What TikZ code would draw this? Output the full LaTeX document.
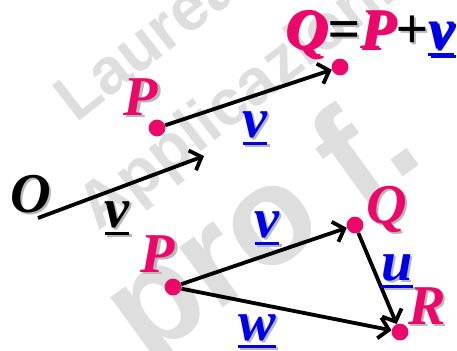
\documentclass[tikz,border=0pt]{standalone}
\usepackage{fontspec}
\setmainfont{Liberation Serif}
\newfontfamily\bifont{Liberation Serif Bold Italic}
\newfontfamily\wmfont{Liberation Sans Bold}
\usetikzlibrary{arrows.meta, positioning}
\definecolor{ptpink}{RGB}{236,8,106}
\definecolor{vecblue}{RGB}{0,0,230}
\definecolor{wmgray}{RGB}{222,222,222}
\newcommand{\uvec}[1]{\setbox0\hbox{#1}\rlap{\rule[-0.14em]{\wd0}{0.055em}}\box0}
\newcommand{\shd}[1]{\rlap{\kern1.6pt\raisebox{-1.6pt}{\textcolor{black!28}{#1}}}#1}
\tikzset{
    dot/.style={
        circle,
        fill=ptpink,
        inner sep=0pt,
        minimum size=0.42cm
    },
    bigtext/.style={font=\bifont\fontsize{40}{44}\selectfont, inner sep=0pt, anchor=base},
    ptlabel/.style={bigtext, text=ptpink},
    veclabel/.style={bigtext, text=vecblue},
    blklabel/.style={bigtext, text=black},
    vecline/.style={-{Straight Barb[length=7pt,width=15pt]}, line width=2.7pt},
    watermark/.style={text=wmgray, font=\wmfont\fontsize{46}{50}\selectfont, rotate=38, anchor=base west, inner sep=0pt}
}

\begin{document}
\begin{tikzpicture}[x=0.025cm, y=-0.025cm]
\useasboundingbox (0,0) rectangle (457,350);
\begin{scope}
\clip (0,0) rectangle (457,350);
\node[watermark] (wm1) at (76,124) {Laurea};
\node[watermark] (wm2) at (98,232) {Applicazioni};
\node[watermark, rotate=-2, font=\wmfont\fontsize{100}{104}\selectfont] (wm3) at (146,364) {pro\kern0.25em f.};
\end{scope}

% translation of P by v
\node[blklabel] (O) at (31,212) {\shd{O}};
\coordinate (o1) at (38,218);
\coordinate (o2) at (204,156);
\draw[vecline] (o1) -- (o2);
\node[blklabel] (vO) at (117,227) {\shd{\uvec{v}}};

\node[dot] (P1) at (157,128) {};
\node[dot] (Q1) at (340,67) {};
\node[ptlabel] (lP1) at (141,115) {\shd{P}};
\node[bigtext, font=\bifont\fontsize{41}{44}\selectfont] (eq) at (370,48)
    {\shd{\textcolor{ptpink}{Q}}\shd{=}\shd{\textcolor{ptpink}{P}}\shd{+}\shd{\textcolor{vecblue}{\uvec{v}}}};
\draw[vecline] (P1) -- (Q1);
\node[veclabel] (v1) at (255,137) {\shd{\uvec{v}}};

% triangle P Q R
\node[dot] (P2) at (173,287) {};
\node[dot] (Q2) at (355,225) {};
\node[dot] (R2) at (400,332) {};
\node[ptlabel] (lP2) at (158,272) {\shd{P}};
\node[ptlabel] (lQ2) at (387,223) {\shd{Q}};
\node[ptlabel] (lR2) at (427,324) {\shd{R}};
\draw[vecline] (P2) -- (Q2);
\draw[vecline] (Q2) -- (R2);
\draw[vecline] (P2) -- (R2);
\node[veclabel] (v2) at (267,237) {\shd{\uvec{v}}};
\node[veclabel] (u2) at (397,280) {\shd{\uvec{u}}};
\node[veclabel] (w2) at (257,340) {\shd{\uvec{w}}};
\end{tikzpicture}
\end{document}
